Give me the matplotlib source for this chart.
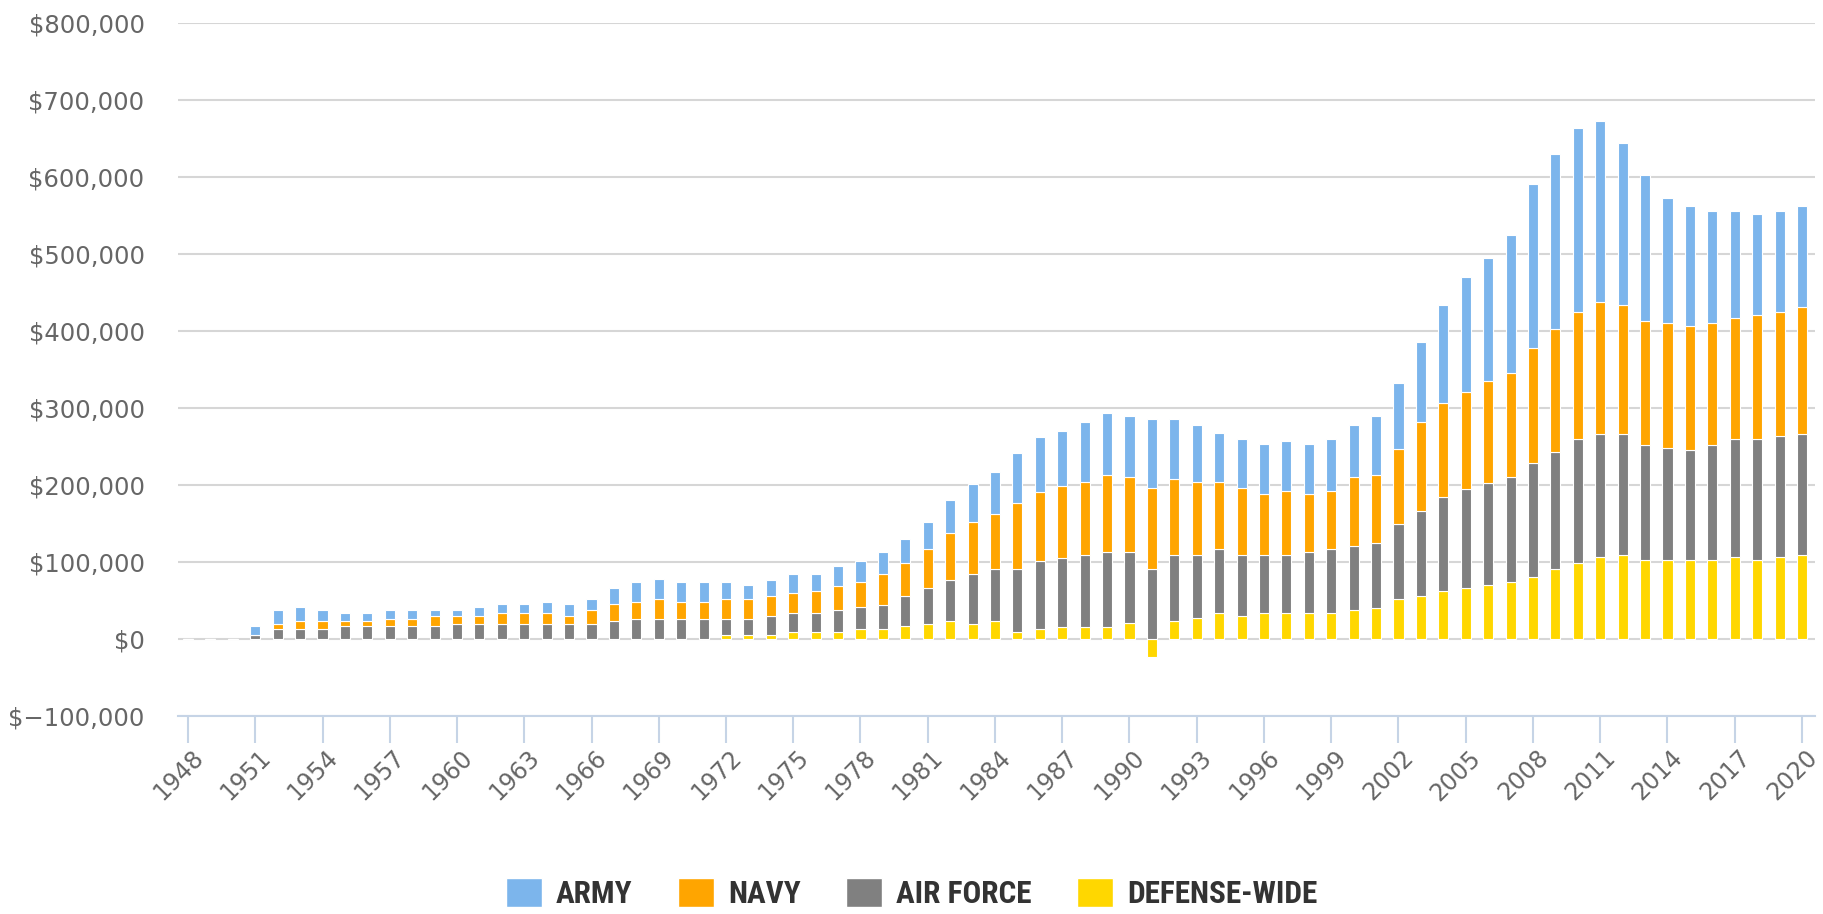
import numpy as np
import matplotlib
matplotlib.use('Agg')
import matplotlib.pyplot as plt
from matplotlib.patches import Patch
from matplotlib.ticker import FuncFormatter
from matplotlib.transforms import ScaledTranslation

years = list(range(1948, 2021))

# values (axis units)
defense_wide = [0, 0, 0, 0, 0, 0, 0, 0, 0, 0, 0, 0, 0, 0, 0, 0, 0, 0, 0, 0, 0, 0, 0, 0,
                5, 5, 5, 9, 9, 9, 12, 12, 16, 19, 23, 19, 23, 9, 12, 15, 15, 15, 20, -24,
                23, 27, 33, 30, 33, 33, 33, 33, 37, 40, 51, 55, 62, 66, 70, 74, 80, 91,
                98, 106, 109, 102, 102, 102, 102, 106, 102, 106, 109]
air_force = [0, 0, 0, 5, 12, 12, 12, 16, 16, 16, 16, 16, 19, 19, 19, 19, 19, 19, 19, 23,
             26, 26, 26, 26, 21, 21, 25, 25, 25, 28, 29, 32, 39, 47, 53, 65, 68, 82, 89,
             90, 94, 98, 93, 91, 86, 82, 83, 79, 76, 76, 80, 83, 83, 84, 98, 111, 122,
             129, 132, 136, 148, 151, 162, 160, 157, 150, 146, 143, 150, 153, 157, 157, 157]
navy = [0, 0, 0, 0, 7, 11, 11, 7, 7, 10, 10, 14, 11, 11, 14, 14, 14, 11, 18, 22, 22, 26,
        22, 22, 26, 26, 25, 25, 28, 32, 32, 40, 43, 50, 61, 67, 71, 85, 90, 93, 94, 100,
        97, 105, 98, 94, 87, 87, 79, 83, 75, 76, 90, 89, 97, 115, 122, 125, 133, 135,
        149, 160, 164, 172, 168, 161, 162, 161, 158, 157, 161, 161, 165]
army = [0, 0, 0, 11, 18, 18, 14, 11, 11, 11, 11, 7, 7, 11, 12, 12, 15, 15, 15, 21, 25, 25,
        25, 25, 21, 18, 21, 25, 22, 25, 28, 28, 32, 35, 43, 50, 54, 65, 71, 72, 78, 80,
        79, 90, 79, 75, 64, 64, 65, 65, 65, 68, 68, 76, 86, 104, 128, 150, 160, 179, 214,
        228, 239, 235, 210, 189, 163, 156, 146, 140, 132, 132, 131]

# stacked bottom to top
series = [
    ('DEFENSE-WIDE', defense_wide, '#ffd700'),
    ('AIR FORCE', air_force, '#808080'),
    ('NAVY', navy, '#ffa500'),
    ('ARMY', army, '#7cb5ec'),
]

plt.rcParams['font.family'] = ['DejaVu Sans']

fig = plt.figure(figsize=(18.23, 9.14), dpi=100)
ax = fig.add_axes([0.0976, 0.217, 0.898, 0.758])

x = np.array(years)
pos_base = np.zeros(len(years))
neg_base = np.zeros(len(years))
for name, vals, color in series:
    v = np.array(vals) * 1000.0
    bottom = np.where(v >= 0, pos_base, neg_base)
    ax.bar(x, v, bottom=bottom, width=0.45, color=color, edgecolor='white',
           linewidth=0.8, zorder=3)
    pos_base = pos_base + np.where(v > 0, v, 0)
    neg_base = neg_base + np.where(v < 0, v, 0)

ax.set_xlim(1947.55, 2020.58)
ax.set_ylim(-100000, 800000)
ax.set_yticks(np.arange(-100000, 800001, 100000))
ax.set_xticks(range(1948, 2021, 3))


def money(v, pos):
    if v < 0:
        return '$\u2212{:,.0f}'.format(-v)
    return '${:,.0f}'.format(v)


ax.yaxis.set_major_formatter(FuncFormatter(money))
ax.grid(axis='y', color='#d6d6d6', linewidth=1.5, zorder=0)
ax.grid(axis='x', visible=False)
for s in ['top', 'right', 'left']:
    ax.spines[s].set_visible(False)
ax.spines['bottom'].set_color('#c6d4e6')
ax.spines['bottom'].set_linewidth(1.5)
ax.spines['bottom'].set_zorder(4)

ax.tick_params(axis='y', length=0, pad=24, labelsize=17.5, labelcolor='#666666')
ax.tick_params(axis='x', length=19.5, width=1.5, color='#c6d4e6', pad=2,
               labelsize=17, labelcolor='#666666')
shift = ScaledTranslation(0.03, 0, fig.dpi_scale_trans)
for lab in ax.get_xticklabels():
    lab.set_rotation(45)
    lab.set_ha('right')
    lab.set_rotation_mode('anchor')
    lab.set_transform(lab.get_transform() + shift)

handles = [Patch(facecolor=c, edgecolor='white', label=n) for n, _, c in reversed(series)]
fig.legend(handles=handles, loc='center', bbox_to_anchor=(0.5, 0.022), ncol=4,
           frameon=False, handlelength=1.15, handleheight=1.05, handletextpad=0.45,
           columnspacing=1.45,
           prop={'family': ['Roboto Condensed', 'Liberation Sans Narrow', 'Roboto'],
                 'size': 22.5, 'weight': 'bold'},
           labelcolor='#333333')

fig.savefig('out.png', dpi=100)
